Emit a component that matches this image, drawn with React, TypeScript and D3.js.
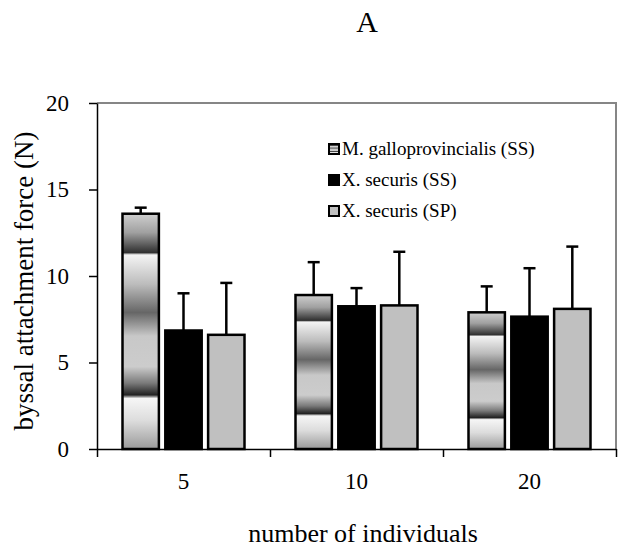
import React, { useEffect, useRef } from "react";
import * as d3 from "d3";

const categories = ["5", "10", "20"];
const seriesNames = ["M. galloprovincialis (SS)", "X. securis (SS)", "X. securis (SP)"];
const mGallo = [13.6, 8.9, 7.9];
const mGalloErr = [0.35, 1.9, 1.5];
const xSecurisSS = [6.85, 8.25, 7.65];
const xSecurisSSErr = [2.15, 1.05, 2.8];
const xSecurisSP = [6.6, 8.3, 8.1];
const xSecurisSPErr = [3.0, 3.1, 3.6];
const yTicks = [0, 5, 10, 15, 20];

const font = "Liberation Serif";

export default function App() {
  const ref = useRef<SVGSVGElement>(null);

  useEffect(() => {
    const svg = d3.select(ref.current);
    svg.selectAll("*").remove();

    const left = 97, right = 616, top = 103, bottom = 449;

    // striped gradient used by Excel-style fill of the first series
    const defs = svg.append("defs");
    const grad = defs
      .append("linearGradient")
      .attr("id", "stripe")
      .attr("x1", 0).attr("y1", 0).attr("x2", 0).attr("y2", 1);
    const stops: [number, string][] = [
      [0, "#cfcfcf"], [0.08, "#a0a0a0"], [0.165, "#303030"], [0.175, "#f4f4f4"],
      [0.3, "#bcbcbc"], [0.42, "#666666"], [0.52, "#c8c8c8"], [0.65, "#cccccc"],
      [0.72, "#7a7a7a"], [0.77, "#222222"], [0.785, "#f6f6f6"], [0.88, "#dcdcdc"],
      [1, "#9a9a9a"],
    ];
    stops.forEach(([o, c]) => grad.append("stop").attr("offset", o).attr("stop-color", c));

    const series = [
      { name: seriesNames[0], values: mGallo, err: mGalloErr, fill: "url(#stripe)" },
      { name: seriesNames[1], values: xSecurisSS, err: xSecurisSSErr, fill: "#000000" },
      { name: seriesNames[2], values: xSecurisSP, err: xSecurisSPErr, fill: "#c0c0c0" },
    ];

    const x = d3.scaleBand().domain(categories).range([left, right]).padding(0);
    const inner = d3
      .scaleBand()
      .domain(seriesNames)
      .range([25.5, x.bandwidth() - 25.5])
      .paddingInner(0.15);
    const y = d3.scaleLinear().domain([0, 20]).range([bottom, top]);

    // gray plot frame (top and right)
    svg.append("path")
      .attr("d", `M${left},${top}H${right}V${bottom}`)
      .attr("fill", "none")
      .attr("stroke", "#868686")
      .attr("stroke-width", 2);

    // bars
    const g = svg.append("g");
    series.forEach((s) => {
      categories.forEach((c, i) => {
        const bx = x(c)! + inner(s.name)!;
        const bw = inner.bandwidth();
        const cx = bx + bw / 2;
        g.append("line")
          .attr("x1", cx).attr("x2", cx)
          .attr("y1", y(s.values[i])).attr("y2", y(s.values[i] + s.err[i]))
          .attr("stroke", "#000").attr("stroke-width", 2.5);
        g.append("line")
          .attr("x1", cx - 6).attr("x2", cx + 6)
          .attr("y1", y(s.values[i] + s.err[i])).attr("y2", y(s.values[i] + s.err[i]))
          .attr("stroke", "#000").attr("stroke-width", 2.5);
        g.append("rect")
          .attr("x", bx).attr("y", y(s.values[i]))
          .attr("width", bw).attr("height", y(0) - y(s.values[i]))
          .attr("fill", s.fill)
          .attr("stroke", "#000").attr("stroke-width", 2.5);
      });
    });

    // y axis
    const yAxis = svg.append("g")
      .attr("transform", `translate(${left},0)`)
      .call(d3.axisLeft(y).tickValues(yTicks).tickSize(8).tickPadding(20).tickSizeOuter(0));
    yAxis.select(".domain").attr("stroke-width", 1.5);
    yAxis.selectAll("line").attr("stroke-width", 1.5);
    yAxis.selectAll("text").style("font-family", font).style("font-size", "23px").attr("fill", "#000");

    // x axis: tick marks at category boundaries
    const xb = d3.scaleLinear().domain([0, 3]).range([left, right]);
    const xAxis = svg.append("g")
      .attr("transform", `translate(0,${bottom})`)
      .call(d3.axisBottom(xb).tickValues([0, 1, 2, 3]).tickSize(8).tickFormat(() => "").tickSizeOuter(0));
    xAxis.select(".domain").attr("stroke-width", 1.5);
    xAxis.selectAll("line").attr("stroke-width", 1.5);

    const xLabels = svg.append("g")
      .attr("transform", `translate(0,${bottom})`)
      .call(d3.axisBottom(x).tickSize(0).tickPadding(24));
    xLabels.select(".domain").remove();
    xLabels.selectAll("text").style("font-family", font).style("font-size", "23px").attr("fill", "#000");

    // legend
    const legend = svg.append("g").attr("transform", "translate(329,0)");
    const legendY = [149, 180, 211];
    series.forEach((s, i) => {
      legend.append("rect")
        .attr("x", 0).attr("y", legendY[i] - 5)
        .attr("width", 10).attr("height", 10)
        .attr("fill", s.fill).attr("stroke", "#000").attr("stroke-width", 2);
      legend.append("text")
        .attr("x", 13).attr("y", legendY[i] + 6)
        .style("font-family", font).style("font-size", "19px")
        .text(s.name);
    });

    // titles
    svg.append("text")
      .attr("x", 367).attr("y", 32)
      .attr("text-anchor", "middle")
      .style("font-family", font).style("font-size", "30px")
      .text("A");
    svg.append("text")
      .attr("transform", `translate(33,281) rotate(-90)`)
      .attr("text-anchor", "middle")
      .style("font-family", font).style("font-size", "27px")
      .text("byssal attachment force (N)");
    svg.append("text")
      .attr("x", 363).attr("y", 542)
      .attr("text-anchor", "middle")
      .style("font-family", font).style("font-size", "26px")
      .text("number of individuals");
  }, []);

  return (
    <svg
      ref={ref}
      width={621}
      height={556}
      style={{ position: "absolute", left: 0, top: 0, background: "#fff" }}
    />
  );
}
